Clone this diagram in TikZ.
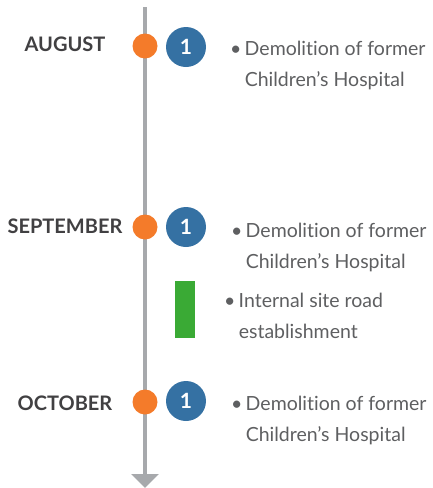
\documentclass[tikz,border=0pt]{standalone}
\usepackage{fontspec}
\setmainfont[Ligatures={NoCommon,NoRare}]{Lato}
\usetikzlibrary{arrows.meta}
\definecolor{axisgray}{HTML}{A7A9AC}
\definecolor{monthgray}{HTML}{414042}
\definecolor{itemgray}{HTML}{5E5F61}
\definecolor{dotorange}{HTML}{F47B2A}
\definecolor{numblue}{HTML}{3571A3}
\definecolor{roadgreen}{HTML}{3AAA35}

\begin{document}
\begin{tikzpicture}[x=1pt, y=-1pt,
    month/.style={anchor=base, text=monthgray, font=\fontsize{20}{24}\selectfont\bfseries},
    dot/.style={circle, fill=dotorange, inner sep=0pt, minimum size=25pt},
    num/.style={circle, fill=numblue, inner sep=0pt, minimum size=40pt, text=white, font=\fontsize{21}{24}\selectfont\bfseries},
    item/.style={anchor=base west, align=left, inner sep=0pt, text=itemgray, font=\fontsize{19.5}{31}\selectfont}]
      \useasboundingbox (0,0) rectangle (433,488);
      \coordinate (top) at (145,7);
      \coordinate (bottom) at (145,488);
      \draw[axisgray, line width=3.5pt, -{Triangle[width=27pt, length=14pt]}] (top) -- (bottom);

      \node[month] (aug) at (65,51) {AUGUST};
      \node[month] (sep) at (65,233) {SEPTEMBER};
      \node[month] (oct) at (65,410) {OCTOBER};

      \node[dot] (augdot) at (145,46) {};
      \node[dot] (sepdot) at (145,227) {};
      \node[dot] (octdot) at (145,402) {};

      \node[num] (augnum) at (186,47) {1};
      \node[num] (sepnum) at (186,227) {1};
      \node[num] (octnum) at (186,401) {1};
      \node[fill=roadgreen, inner sep=0pt, minimum width=20pt, minimum height=57pt] (road) at (185,309.5) {};

      \node[item] (augtext) at (230,86) {\textbullet\,Demolition of former\\\phantom{\textbullet\,}Children’s Hospital};
      \node[item] (septext) at (231,268) {\textbullet\,Demolition of former\\\phantom{\textbullet\,}Children’s Hospital};
      \node[item] (roadtext) at (224,338) {\textbullet\,Internal site road\\\phantom{\textbullet\,}establishment};
      \node[item] (octtext) at (231,441) {\textbullet\,Demolition of former\\\phantom{\textbullet\,}Children’s Hospital};
    \end{tikzpicture}
\end{document}
